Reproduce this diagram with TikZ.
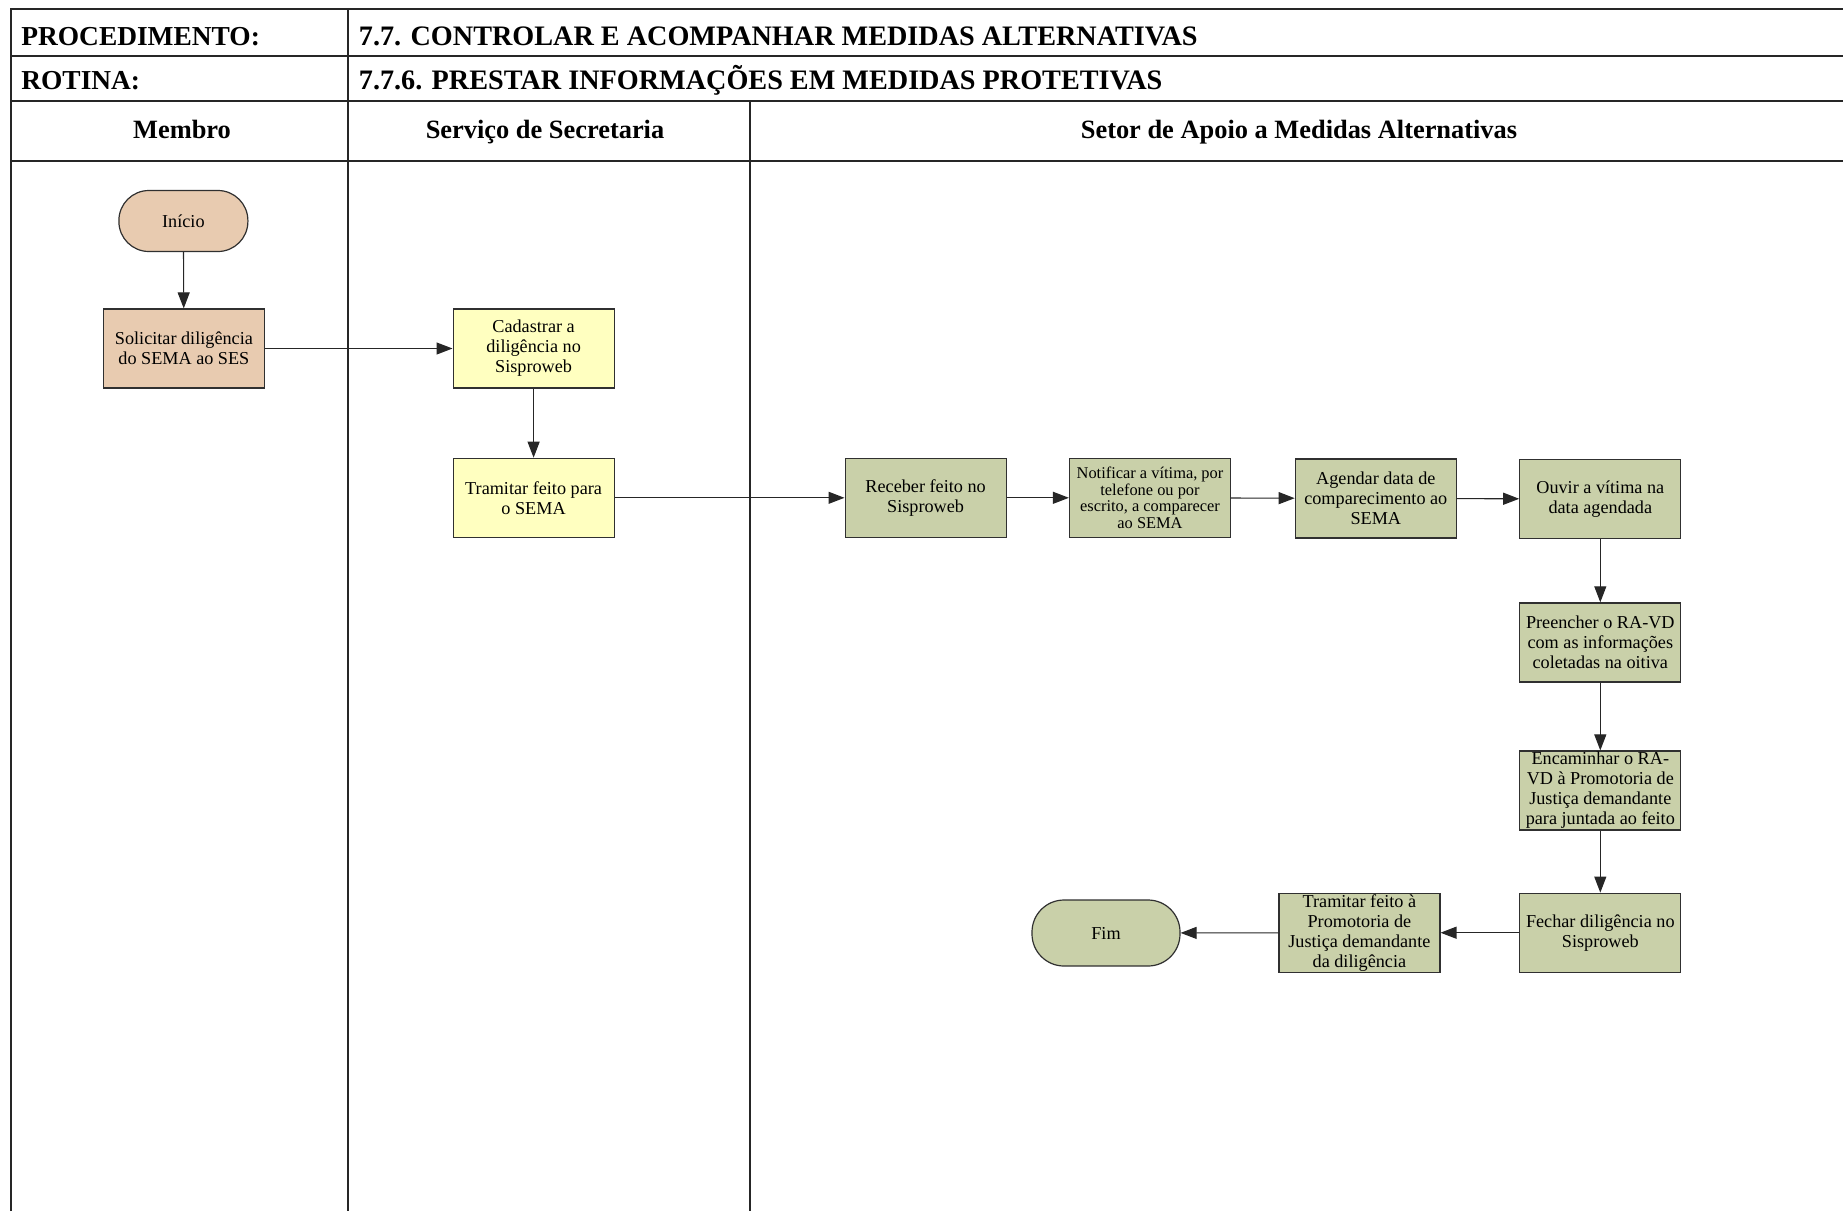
\documentclass[tikz,border=0pt]{standalone}
\usepackage{fontspec}
\setmainfont{Liberation Serif}
\usetikzlibrary{arrows.meta}

\definecolor{tanfill}{HTML}{E8CBB0}
\definecolor{yelfill}{HTML}{FFFFC0}
\definecolor{grnfill}{HTML}{C9D0A9}
\definecolor{boxline}{HTML}{303030}

\begin{document}
\begin{tikzpicture}[x=0.5pt,y=-0.5pt,
  tableline/.style={line width=1pt, draw=black!85},
  lanetitle/.style={font=\fontsize{13.2pt}{15pt}\selectfont\bfseries, inner sep=0pt},
  rowtitle/.style={font=\fontsize{13.7pt}{15pt}\selectfont\bfseries, anchor=west, inner sep=0pt},
  rowvalue/.style={font=\fontsize{14.1pt}{15pt}\selectfont\bfseries, anchor=west, inner sep=0pt},
  stepbox/.style={draw=boxline, line width=0.6pt, minimum width=80.5pt, minimum height=39.5pt,
    inner sep=0.5pt, align=center, font=\fontsize{9.1pt}{10pt}\selectfont},
  termbox/.style={draw=boxline, line width=0.6pt, rounded corners=15pt, align=center,
    font=\fontsize{9.1pt}{10pt}\selectfont},
  flow/.style={line width=0.55pt, draw=black!85, -{Triangle[length=8pt,width=6pt]}}
]
\useasboundingbox (0,0) rectangle (1843,1211);

% table frame
\draw[tableline] (10.6,1211) -- (10.6,9.4) -- (1843,9.4);
\draw[tableline] (10.6,56.4) -- (1843,56.4);
\draw[tableline] (10.6,101) -- (1843,101);
\draw[tableline] (10.6,161) -- (1843,161);
\draw[tableline] (348,9.4) -- (348,1211);
\draw[tableline] (750,101) -- (750,1211);

% title rows
\node[rowtitle] (proclab) at (21,36.4) {PROCEDIMENTO:};
\node[rowvalue] (procval) at (358.5,36.4) {7.7. CONTROLAR E ACOMPANHAR MEDIDAS ALTERNATIVAS};
\node[rowtitle] (rotlab) at (21,80.5) {ROTINA:};
\node[rowvalue] (rotval) at (358.5,80.5) {7.7.6. PRESTAR INFORMAÇÕES EM MEDIDAS PROTETIVAS};

% lane titles
\node[lanetitle] (lane1) at (182,129.5) {Membro};
\node[lanetitle] (lane2) at (545,132) {Serviço de Secretaria};
\node[lanetitle] (lane3) at (1299,132) {Setor de Apoio a Medidas Alternativas};

% steps
\node[termbox, fill=tanfill, minimum width=64.5pt, minimum height=30.5pt] (inicio) at (183.4,221) {Início};
\node[stepbox, fill=tanfill] (solicitar) at (183.9,348.5) {Solicitar diligência\\do SEMA ao SES};
\node[stepbox, fill=yelfill] (cadastrar) at (533.6,348.5) {Cadastrar a\\diligência no\\Sisproweb};
\node[stepbox, fill=yelfill] (tramsema) at (533.6,497.8) {Tramitar feito para\\o SEMA};
\node[stepbox, fill=grnfill] (receber) at (925.6,497.8) {Receber feito no\\Sisproweb};
\node[stepbox, fill=grnfill, font=\fontsize{8.2pt}{8.4pt}\selectfont] (notificar) at (1150,497.8)
  {Notificar a vítima, por\\telefone ou por\\escrito, a comparecer\\ao SEMA};
\node[stepbox, fill=grnfill] (agendar) at (1375.8,498.4) {Agendar data de\\comparecimento ao\\SEMA};
\node[stepbox, fill=grnfill] (ouvir) at (1600.3,499) {Ouvir a vítima na\\data agendada};
\node[stepbox, fill=grnfill] (preencher) at (1600.3,642.4) {Preencher o RA-VD\\com as informações\\coletadas na oitiva};
\node[stepbox, fill=grnfill] (encaminhar) at (1600.3,790.5) {Encaminhar o RA-\\VD à Promotoria de\\Justiça demandante\\para juntada ao feito};
\node[stepbox, fill=grnfill] (fechar) at (1600.3,932.7) {Fechar diligência no\\Sisproweb};
\node[stepbox, fill=grnfill] (tramprom) at (1359.4,932.7) {Tramitar feito à\\Promotoria de\\Justiça demandante\\da diligência};
\node[termbox, fill=grnfill, rounded corners=16pt, minimum width=74pt, minimum height=33pt] (fim) at (1106,933) {Fim};

% connectors
\draw[flow] (inicio) -- (solicitar);
\draw[flow] (solicitar) -- (cadastrar);
\draw[flow] (cadastrar) -- (tramsema);
\draw[flow] (tramsema) -- (receber);
\draw[flow] (receber) -- (notificar);
\draw[flow] (notificar) -- (agendar);
\draw[flow] (agendar) -- (ouvir);
\draw[flow] (ouvir) -- (preencher);
\draw[flow] (preencher) -- (encaminhar);
\draw[flow] (encaminhar) -- (fechar);
\draw[flow] (fechar) -- (tramprom);
\draw[flow] (tramprom) -- (fim);
\end{tikzpicture}
\end{document}
